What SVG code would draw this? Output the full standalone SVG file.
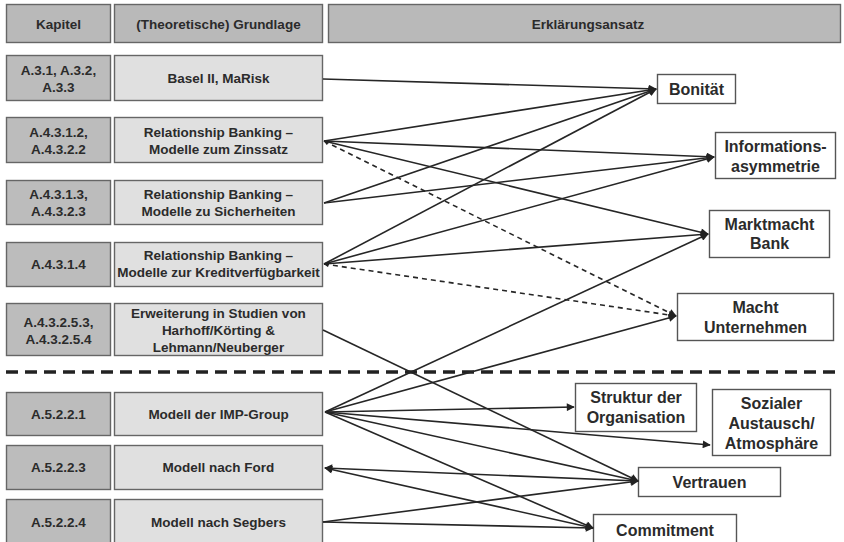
<svg xmlns="http://www.w3.org/2000/svg" width="844" height="542" viewBox="0 0 844 542">
<style>
.hd{fill:#b9b9b9;stroke:#666;stroke-width:1.4}
.kp{fill:#bcbcbc;stroke:#666;stroke-width:1.4}
.gl{fill:#e0e0e0;stroke:#666;stroke-width:1.4}
.ex{fill:#fff;stroke:#555;stroke-width:1.4}
text{font-family:"Liberation Sans",Arial,sans-serif;font-weight:bold;fill:#2b2b2b;text-anchor:middle}
.s{font-size:13.5px}
.b{font-size:16px}
.c line{stroke:#262626;stroke-width:1.6;fill:none}
.c .d{stroke-dasharray:5 4}
.c .a{marker-end:url(#ah)}
</style>
<defs>
<marker id="ah" viewBox="0 0 10 10" refX="9" refY="5" markerWidth="9" markerHeight="8" markerUnits="userSpaceOnUse" orient="auto">
<path d="M0,0 L10,5 L0,10 z" fill="#222"/>
</marker>
<marker id="as" viewBox="0 0 10 10" refX="1" refY="5" markerWidth="9" markerHeight="8" markerUnits="userSpaceOnUse" orient="auto">
<path d="M10,0 L0,5 L10,10 z" fill="#222"/>
</marker>
<marker id="ss" viewBox="0 0 10 10" refX="1" refY="5" markerWidth="6" markerHeight="5" markerUnits="userSpaceOnUse" orient="auto">
<path d="M10,0 L0,5 L10,10 z" fill="#222"/>
</marker>
</defs>
<rect width="844" height="542" fill="#fff"/>

<g id="header">
<rect class="hd" x="6.5" y="4.5" width="104" height="38"/>
<text class="s" x="58.5" y="28.5">Kapitel</text>
<rect class="hd" x="114.5" y="4.5" width="208" height="38"/>
<text class="s" x="218.5" y="28.5">(Theoretische) Grundlage</text>
<rect class="hd" x="328.5" y="4.5" width="512" height="38"/>
<text class="s" x="588" y="28.5">Erklärungsansatz</text>
</g>

<g id="row1">
<rect class="kp" x="6.5" y="55.5" width="104" height="45"/>
<text class="s" x="58.5" y="75">A.3.1, A.3.2,</text>
<text class="s" x="58.5" y="92">A.3.3</text>
<rect class="gl" x="114.5" y="55.5" width="208" height="45"/>
<text class="s" x="218.5" y="83">Basel II, MaRisk</text>
</g>

<g id="row2">
<rect class="kp" x="6.5" y="117.5" width="104" height="45"/>
<text class="s" x="58.5" y="137">A.4.3.1.2,</text>
<text class="s" x="58.5" y="154">A.4.3.2.2</text>
<rect class="gl" x="114.5" y="117.5" width="208" height="45"/>
<text class="s" x="218.5" y="137">Relationship Banking –</text>
<text class="s" x="218.5" y="154">Modelle zum Zinssatz</text>
</g>

<g id="row3">
<rect class="kp" x="6.5" y="180.5" width="104" height="44"/>
<text class="s" x="58.5" y="199">A.4.3.1.3,</text>
<text class="s" x="58.5" y="216">A.4.3.2.3</text>
<rect class="gl" x="114.5" y="180.5" width="208" height="44"/>
<text class="s" x="218.5" y="199">Relationship Banking –</text>
<text class="s" x="218.5" y="216">Modelle zu Sicherheiten</text>
</g>

<g id="row4">
<rect class="kp" x="6.5" y="242.5" width="104" height="44"/>
<text class="s" x="58.5" y="269">A.4.3.1.4</text>
<rect class="gl" x="114.5" y="242.5" width="208" height="44"/>
<text class="s" x="218.5" y="260">Relationship Banking –</text>
<text class="s" x="218.5" y="277">Modelle zur Kreditverfügbarkeit</text>
</g>

<g id="row5">
<rect class="kp" x="6.5" y="303.5" width="104" height="52"/>
<text class="s" x="58.5" y="327">A.4.3.2.5.3,</text>
<text class="s" x="58.5" y="344">A.4.3.2.5.4</text>
<rect class="gl" x="114.5" y="303.5" width="208" height="52"/>
<text class="s" x="218.5" y="318">Erweiterung in Studien von</text>
<text class="s" x="218.5" y="335">Harhoff/Körting &amp;</text>
<text class="s" x="218.5" y="352">Lehmann/Neuberger</text>
</g>

<g id="separator">
<line x1="6" y1="372" x2="842" y2="372" stroke="#222" stroke-width="3.5" stroke-dasharray="12 7"/>
</g>

<g id="row6">
<rect class="kp" x="6.5" y="392.5" width="104" height="43"/>
<text class="s" x="58.5" y="419">A.5.2.2.1</text>
<rect class="gl" x="114.5" y="392.5" width="208" height="43"/>
<text class="s" x="218.5" y="419">Modell der IMP-Group</text>
</g>

<g id="row7">
<rect class="kp" x="6.5" y="445.5" width="104" height="44"/>
<text class="s" x="58.5" y="472">A.5.2.2.3</text>
<rect class="gl" x="114.5" y="445.5" width="208" height="44"/>
<text class="s" x="218.5" y="472">Modell nach Ford</text>
</g>

<g id="row8">
<rect class="kp" x="6.5" y="499.5" width="104" height="46"/>
<text class="s" x="58.5" y="527">A.5.2.2.4</text>
<rect class="gl" x="114.5" y="499.5" width="208" height="46"/>
<text class="s" x="218.5" y="527">Modell nach Segbers</text>
</g>

<g id="bonitaet">
<rect class="ex" x="657.5" y="74.5" width="78" height="29"/>
<text class="b" x="696.5" y="95">Bonität</text>
</g>
<g id="informationsasymmetrie">
<rect class="ex" x="715.5" y="132.5" width="120" height="46"/>
<text class="b" x="775.5" y="152">Informations-</text>
<text class="b" x="775.5" y="172">asymmetrie</text>
</g>
<g id="marktmacht">
<rect class="ex" x="709.5" y="210.5" width="120" height="47"/>
<text class="b" x="769.5" y="230">Marktmacht</text>
<text class="b" x="769.5" y="249">Bank</text>
</g>
<g id="machtunternehmen">
<rect class="ex" x="677.5" y="293.5" width="156" height="47"/>
<text class="b" x="755.5" y="313">Macht</text>
<text class="b" x="755.5" y="333">Unternehmen</text>
</g>
<g id="struktur">
<rect class="ex" x="575.5" y="383.5" width="121" height="48"/>
<text class="b" x="636" y="403">Struktur der</text>
<text class="b" x="636" y="423">Organisation</text>
</g>
<g id="sozialer">
<rect class="ex" x="712.5" y="389.5" width="118" height="66"/>
<text class="b" x="771.5" y="409">Sozialer</text>
<text class="b" x="771.5" y="429">Austausch/</text>
<text class="b" x="771.5" y="449">Atmosphäre</text>
</g>
<g id="vertrauen">
<rect class="ex" x="638.5" y="467.5" width="142" height="29"/>
<text class="b" x="709.5" y="488">Vertrauen</text>
</g>
<g id="commitment">
<rect class="ex" x="593.5" y="514.5" width="143" height="32"/>
<text class="b" x="665" y="536">Commitment</text>
</g>

<g id="connectors" class="c">
<line class="a" x1="323" y1="79" x2="656" y2="89"/>
<line class="a" x1="324" y1="141" x2="656" y2="89"/>
<line class="a" x1="324" y1="203" x2="656" y2="89"/>
<line class="a" x1="324" y1="264" x2="656" y2="89"/>
<line class="a" x1="324" y1="141" x2="714" y2="157"/>
<line class="a" x1="324" y1="203" x2="714" y2="157"/>
<line class="a" x1="324" y1="264" x2="714" y2="157"/>
<line class="a" x1="324" y1="141" x2="708" y2="234"/>
<line class="a" x1="324" y1="264" x2="708" y2="234"/>
<line class="a d" x1="324" y1="141" x2="676" y2="316" marker-start="url(#ss)"/>
<line class="a d" x1="324" y1="264" x2="676" y2="316" marker-start="url(#ss)"/>
<line class="a" x1="323" y1="330" x2="638" y2="481"/>
<line class="a" x1="325" y1="412" x2="708" y2="234"/>
<line class="a" x1="325" y1="412" x2="676" y2="316"/>
<line class="a" x1="325" y1="412" x2="574" y2="407"/>
<line class="a" x1="325" y1="412" x2="710" y2="445"/>
<line class="a" x1="325" y1="412" x2="638" y2="481"/>
<line class="a" x1="325" y1="412" x2="593" y2="528"/>
<line class="a" x1="325" y1="468" x2="638" y2="481" marker-start="url(#as)"/>
<line class="a" x1="325" y1="468" x2="593" y2="528" marker-start="url(#as)"/>
<line class="a" x1="323" y1="522" x2="638" y2="481"/>
<line class="a" x1="323" y1="522" x2="593" y2="528"/>
</g>
</svg>
